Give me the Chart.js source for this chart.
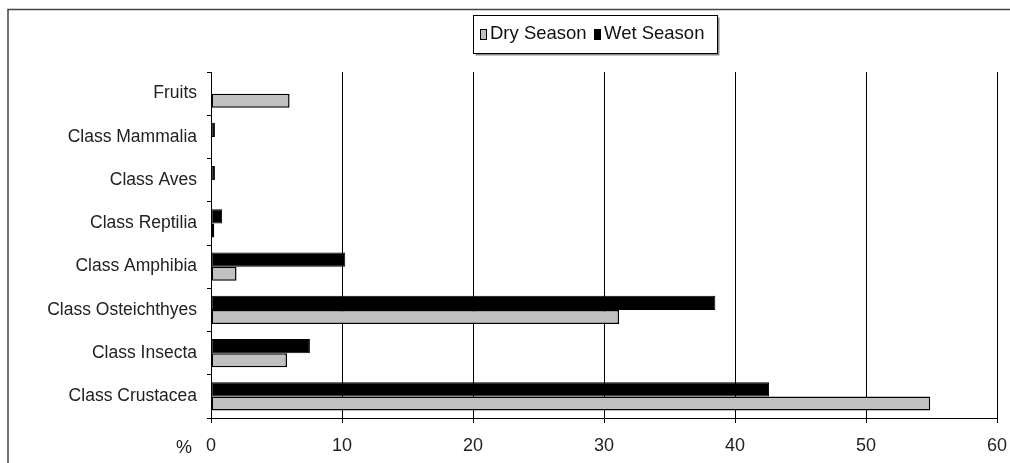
<!DOCTYPE html>
<html>
<head>
<meta charset="utf-8">
<script src="https://cdn.jsdelivr.net/npm/chart.js@4/dist/chart.umd.min.js"></script>
<style>
  html, body { margin: 0; padding: 0; background: #fff; }
  #wrap { width: 1010px; height: 463px; position: relative; }
</style>
</head>
<body>
<div id="wrap"><canvas id="dietChart" width="1010" height="463"></canvas></div>
<script>
// Data
var categories = ['Fruits', 'Class Mammalia', 'Class Aves', 'Class Reptilia',
    'Class Amphibia', 'Class Osteichthyes', 'Class Insecta', 'Class Crustacea'];
var drySeason = [6.0, 0, 0, 0.25, 1.95, 31.15, 5.8, 54.9];
var wetSeason = [0, 0.3, 0.3, 0.85, 10.25, 38.5, 7.55, 42.6];
var xTicks = [0, 10, 20, 30, 40, 50, 60];
var fontFamily = '"Liberation Sans", Arial, sans-serif';

// frame, legend box and "%" label
var decorPlugin = {
    id: 'decor',
    afterDraw: function (chart) {
        var ctx = chart.ctx;
        ctx.save();
        // outer frame (top and left edges)
        ctx.strokeStyle = '#444';
        ctx.lineWidth = 1.5;
        ctx.beginPath();
        ctx.moveTo(8, 463);
        ctx.lineTo(8, 9.5);
        ctx.lineTo(1010, 9.5);
        ctx.stroke();

        // legend
        var bx = 473.5, by = 15.5, bw = 244, bh = 38;
        ctx.fillStyle = '#888';
        ctx.fillRect(bx + 2, by + 2, bw, bh);
        ctx.fillStyle = '#fff';
        ctx.fillRect(bx, by, bw, bh);
        ctx.strokeStyle = '#000';
        ctx.lineWidth = 1;
        ctx.strokeRect(bx, by, bw, bh);

        ctx.font = '18.5px ' + fontFamily;
        ctx.textBaseline = 'middle';
        var order = [1, 0];
        var itemX = [480, 594];
        var cy = 34;
        order.forEach(function (i, k) {
            var ds = chart.data.datasets[i];
            var x = itemX[k];
            ctx.fillStyle = ds.backgroundColor;
            ctx.fillRect(x, cy - 5, 7, 11);
            ctx.strokeStyle = '#000';
            ctx.lineWidth = 1;
            ctx.strokeRect(x + 0.5, cy - 4.5, 6, 10);
            ctx.fillStyle = '#111';
            ctx.textAlign = 'left';
            ctx.fillText(ds.label, x + 10, cy);
        });

        // "%" next to x axis labels
        ctx.fillStyle = '#222';
        ctx.textAlign = 'center';
        ctx.font = '18px ' + fontFamily;
        ctx.fillText('%', 184, 448);
        ctx.restore();
    }
};

var ctx = document.getElementById('dietChart').getContext('2d');
var dietChart = new Chart(ctx, {
    type: 'bar',
    data: {
        labels: categories,
        datasets: [{
            label: 'Wet Season',
            data: wetSeason,
            backgroundColor: '#000000',
            borderColor: '#000000',
            borderWidth: 1,
            borderSkipped: false
        }, {
            label: 'Dry Season',
            data: drySeason,
            backgroundColor: '#c0c0c0',
            borderColor: '#000000',
            borderWidth: 1.5,
            borderSkipped: false
        }]
    },
    options: {
        indexAxis: 'y',
        responsive: false,
        animation: false,
        devicePixelRatio: 1,
        categoryPercentage: 0.65,
        barPercentage: 1,
        layout: {
            padding: { top: 72, right: 13, bottom: 0, left: 0 }
        },
        plugins: {
            legend: { display: false },
            tooltip: { enabled: false }
        },
        scales: {
            x: {
                min: 0,
                max: 60,
                afterBuildTicks: function (axis) {
                    axis.ticks = xTicks.map(function (v) { return { value: v }; });
                },
                grid: {
                    color: '#000',
                    lineWidth: 1,
                    tickLength: 5,
                    drawTicks: true
                },
                border: { display: true, color: '#000', width: 1 },
                ticks: {
                    color: '#222',
                    padding: 12,
                    font: { family: fontFamily, size: 18 }
                },
                afterFit: function (axis) {
                    axis.height = 45;
                    axis.paddingLeft = 0;
                    axis.paddingRight = 0;
                }
            },
            y: {
                grid: {
                    offset: true,
                    drawOnChartArea: false,
                    color: '#000',
                    tickLength: 4
                },
                border: { display: true, color: '#000', width: 1 },
                ticks: {
                    color: '#222',
                    padding: 10,
                    font: { family: fontFamily, size: 17.5 }
                },
                afterFit: function (axis) { axis.width = 211; }
            }
        }
    },
    plugins: [decorPlugin]
});
</script>
</body>
</html>
